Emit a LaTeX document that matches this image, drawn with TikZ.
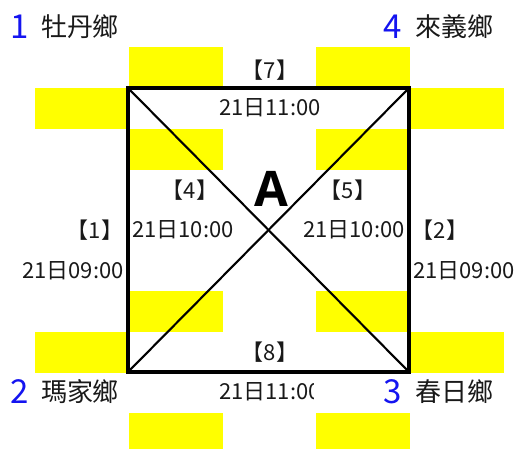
\documentclass[tikz,border=0pt]{standalone}
\usepackage{fontspec}
\setmainfont{Noto Sans CJK TC}
\newfontfamily\bigAfont{Open Sans}
\usetikzlibrary{positioning}
\definecolor{markY}{RGB}{255,255,0}
\definecolor{numB}{RGB}{20,20,240}
\definecolor{txtK}{RGB}{25,25,25}
\tikzset{
  lbl/.style={inner sep=0pt, text=txtK, font=\fontsize{22}{25}\selectfont},
  town/.style={inner sep=0pt, text=txtK, font=\fontsize{26}{29}\selectfont},
  num/.style={inner sep=0pt, text=numB, font=\fontsize{33}{36}\selectfont},
  patch/.style={fill=markY},
}
\begin{document}
\begin{tikzpicture}[x=1pt,y=-1pt]
\useasboundingbox (0,0) rectangle (517,448);

% yellow patches at the corners
\foreach \px/\py in {129/47, 35/88, 129/129, 316/47, 410/88, 316/129,
                     129/291, 35/332, 129/413, 316/291, 410/332, 316/413} {
  \fill[patch] (\px,\py) rectangle +(94,41);
}

% corners of the square
\coordinate (nw) at (128,88);
\coordinate (ne) at (409,88);
\coordinate (sw) at (128,372);
\coordinate (se) at (409,372);

\draw[line width=2.1pt] (nw) -- (se);
\draw[line width=2.1pt] (sw) -- (ne);
\draw[line width=3.1pt] (nw) -- (ne) -- (se) -- (sw) -- cycle;

% road labels
\node[lbl] (r7) at (270,70) {【7】};
\node[lbl] (h7) at (270,108) {21日11:00};
\node[lbl] (r4) at (190,190) {【4】};
\node[lbl] (r5) at (348,190) {【5】};
\node[inner sep=0pt, font=\bigAfont\fontsize{49}{52}\selectfont\bfseries] (cA) at (271,189) {A};
\node[lbl] (r1) at (95,230) {【1】};
\node[lbl] (h4) at (183,230) {21日10:00};
\node[lbl] (h5) at (354,230) {21日10:00};
\node[lbl] (r2) at (440,230) {【2】};
\node[lbl] (h1) at (73,271) {21日09:00};
\node[lbl] (h2) at (464,271) {21日09:00};
\node[lbl] (r8) at (270,352) {【8】};
\node[lbl] (h8) at (270,392) {21日11:00};

% white patch cutting the last label
\fill[white] (314,375) rectangle (380,412);

% towns
\node[num] (n1) at (20,27) {1};
\node[town] (t1) at (80,27) {牡丹鄉};
\node[num] (n4) at (393,27) {4};
\node[town] (t4) at (454,27) {來義鄉};
\node[num] (n2) at (20,392) {2};
\node[town] (t2) at (80,392) {瑪家鄉};
\node[num] (n3) at (393,392) {3};
\node[town] (t3) at (454,392) {春日鄉};
\end{tikzpicture}
\end{document}
